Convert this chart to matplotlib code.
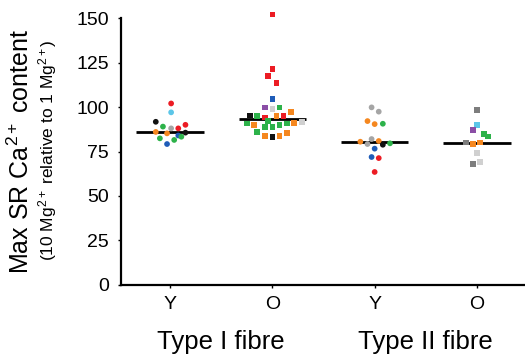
import numpy as np
import matplotlib
matplotlib.use("Agg")
import matplotlib.pyplot as plt

plt.rcParams['font.family'] = ['Liberation Sans', 'DejaVu Sans']
plt.rcParams['mathtext.fontset'] = 'custom'
plt.rcParams['mathtext.rm'] = 'Liberation Sans'
plt.rcParams['mathtext.it'] = 'Liberation Sans:italic'

# colours used for individual participants
RED, LBLUE, BLACK, GREEN = '#ec1c24', '#5cc6e8', '#111111', '#2db24a'
GRAY, ORANGE, BLUE, PURPLE = '#a5a5a5', '#f5871f', '#1f5cb8', '#8b4ea6'
DGRAY, LGRAY = '#7d7d7d', '#d0d0d0'

tick_labels = ['Y', 'O', 'Y', 'O']
group_labels = ['Type I fibre', 'Type II fibre']

# Type I, young (circles)
t1y_vals = [102, 97, 91.7, 89, 88, 88, 90, 86, 85.2, 85.6, 84, 83.3, 82.4, 81.5, 79.2]
t1y_cols = [RED, LBLUE, BLACK, GREEN, GRAY, RED, RED, ORANGE, ORANGE, BLACK, BLUE, GREEN, GREEN, GREEN, BLUE]
t1y_dx = [0.01, 0.01, -0.14, -0.07, 0.01, 0.08, 0.15, -0.14, -0.03, 0.15, 0.08, 0.11, -0.10, 0.04, -0.03]
t1y_mean = 86

# Type I, old (squares)
t1o_vals = [152, 121.5, 117.6, 113.7, 104.6, 99.7, 98.7, 99.8, 97, 95.3, 94.9, 94.8, 94.9, 94.1,
            92.1, 90.8, 89.8, 88.9, 88.9, 89.8, 90.8, 91, 91.7, 86, 83.7, 83.1, 83.7, 85.2]
t1o_cols = [RED, RED, RED, RED, BLUE, PURPLE, LGRAY, GREEN, ORANGE, BLACK, GREEN, ORANGE, RED, RED,
            GREEN, GREEN, ORANGE, GREEN, GREEN, GREEN, GREEN, ORANGE, LGRAY, GREEN, ORANGE, BLACK, ORANGE, ORANGE]
t1o_dx = [0.0, 0.0, -0.04, 0.04, 0.0, -0.07, 0.0, 0.07, 0.18, -0.22, -0.15, 0.04, 0.11, -0.07,
          -0.04, -0.25, -0.18, -0.07, 0.0, 0.07, 0.14, 0.21, 0.29, -0.15, -0.07, 0.0, 0.07, 0.14]
t1o_mean = 93

# Type II, young (circles)
t2y_vals = [99.8, 97.4, 92.1, 90.4, 90.6, 82, 80.5, 80.9, 79.2, 78.8, 79.6, 76.6, 71.9, 71.3, 63.5]
t2y_cols = [GRAY, GRAY, ORANGE, ORANGE, GREEN, GRAY, ORANGE, ORANGE, GRAY, BLACK, GREEN, BLUE, BLUE, RED, RED]
t2y_dx = [-0.03, 0.04, -0.07, 0.0, 0.08, -0.03, -0.14, 0.04, -0.07, 0.08, 0.15, 0.0, -0.03, 0.04, 0.0]
t2y_mean = 80.5

# Type II, old (squares)
t2o_vals = [98.5, 89.9, 87.1, 84.7, 83.5, 80.1, 79.4, 80.1, 74.3, 69.1, 68]
t2o_cols = [DGRAY, LBLUE, PURPLE, GREEN, GREEN, DGRAY, ORANGE, ORANGE, LGRAY, LGRAY, DGRAY]
t2o_dx = [0.0, 0.0, -0.04, 0.07, 0.11, -0.11, -0.04, 0.03, 0.0, 0.03, -0.04]
t2o_mean = 80

groups = [
    (t1y_vals, t1y_cols, t1y_dx, t1y_mean, 'o'),
    (t1o_vals, t1o_cols, t1o_dx, t1o_mean, 's'),
    (t2y_vals, t2y_cols, t2y_dx, t2y_mean, 'o'),
    (t2o_vals, t2o_cols, t2o_dx, t2o_mean, 's'),
]

fig = plt.figure(figsize=(5.25, 3.58), dpi=100)
ax = fig.add_axes([0.2305, 0.204, 0.7695, 0.7605])

for i, (vals, cols, dx, mean, mk) in enumerate(groups):
    x = i + 1 + np.array(dx)
    ax.scatter(x, vals, c=cols, marker=mk, s=17, linewidths=0, zorder=3, clip_on=False)
    ax.plot([i + 1 - 0.33, i + 1 + 0.33], [mean, mean], color='black', lw=2, zorder=2,
            solid_capstyle='butt')

ax.set_xlim(0.52, 4.47)
ax.set_ylim(0, 153)
ax.set_yticks([0, 25, 50, 75, 100, 125, 150])
ax.set_xticks([1, 2, 3, 4])
ax.set_xticklabels(tick_labels)
ax.tick_params(axis='both', labelsize=14, length=2.5, width=1, direction='out')
ax.tick_params(axis='y', pad=6)
ax.tick_params(axis='x', length=2, pad=6)
for s in ['top', 'right']:
    ax.spines[s].set_visible(False)
ax.spines['left'].set_linewidth(1.6)
ax.spines['bottom'].set_linewidth(1.6)
ax.spines['left'].set_bounds(0, 150)

# group labels under the tick labels
for j, lab in enumerate(group_labels):
    ax.text(1.5 + 2 * j, -0.21, lab, transform=ax.get_xaxis_transform(),
            ha='center', va='center', fontsize=18.5)

fig.text(0.064, 0.578, 'Max SR Ca$^{2+}$ content', rotation=90, ha='right', va='center', fontsize=18)
fig.text(0.112, 0.581, '(10 Mg$^{2+}$ relative to 1 Mg$^{2+}$)', rotation=90, ha='right', va='center', fontsize=12.5)

fig.savefig('out.png', dpi=100)
